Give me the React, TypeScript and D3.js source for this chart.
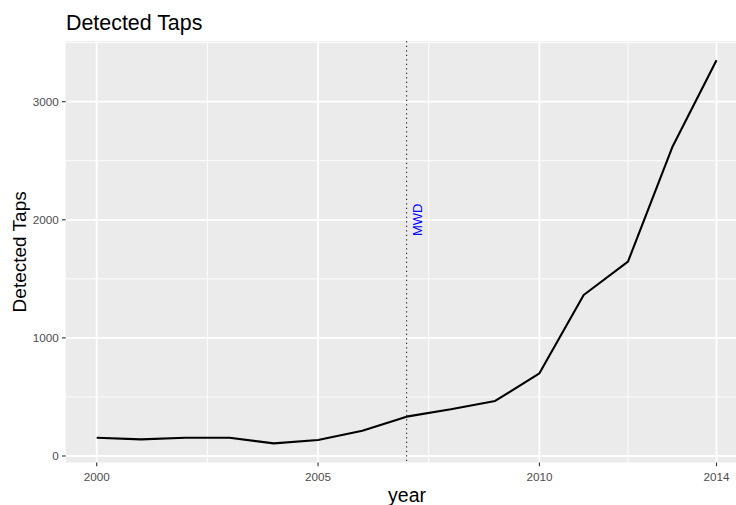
import React from "react";
import * as d3 from "d3";

const years = [2000, 2001, 2002, 2003, 2004, 2005, 2006, 2007, 2008, 2009, 2010, 2011, 2012, 2013, 2014];
const taps = [155, 141, 155, 155, 107, 135, 214, 333, 395, 466, 700, 1363, 1645, 2614, 3350];
const xTicks = [2000, 2005, 2010, 2014];
const xMinor = [2002.5, 2007.5, 2012];
const yTicks = [0, 1000, 2000, 3000];
const yMinor = [500, 1500, 2500, 3500];
const markerYear = 2007;
const markerLabel = "MWD";
const markerLabelPos = { x: 2007.25, y: 2000 };

const W = 736;
const H = 505;
const FONT = "'Liberation Sans', Arial, sans-serif";

export default function App() {
  const xr = d3.extent(years) as [number, number];
  const xe = (xr[1] - xr[0]) * 0.05;
  const x = d3.scaleLinear().domain([xr[0] - xe, xr[1] + xe]).range([65.7, 747.5]);
  const yr = d3.extent(taps) as [number, number];
  const ye = (yr[1] - yr[0]) * 0.05;
  const y = d3.scaleLinear().domain([yr[0] - ye, yr[1] + ye]).range([462.5, 41.2]);

  const [x0, x1] = x.range();
  const [yb, yt] = y.range();
  const line = d3
    .line<number>()
    .x((_, i) => x(years[i]))
    .y((d) => y(d));

  return (
    <svg
      width={W}
      height={H}
      style={{ position: "absolute", left: 0, top: 0, background: "#fff" }}
      fontFamily={FONT}
    >
      <rect x={x0} y={yt} width={x1 - x0} height={yb - yt} fill="#EBEBEB" />
      {yMinor.map((v) => (
        <line key={"ym" + v} x1={x0} x2={x1} y1={y(v)} y2={y(v)} stroke="#fff" strokeWidth={0.9} />
      ))}
      {xMinor.map((v) => (
        <line key={"xm" + v} x1={x(v)} x2={x(v)} y1={yt} y2={yb} stroke="#fff" strokeWidth={0.9} />
      ))}
      {yTicks.map((v) => (
        <line key={"yM" + v} x1={x0} x2={x1} y1={y(v)} y2={y(v)} stroke="#fff" strokeWidth={1.8} />
      ))}
      {xTicks.map((v) => (
        <line key={"xM" + v} x1={x(v)} x2={x(v)} y1={yt} y2={yb} stroke="#fff" strokeWidth={1.8} />
      ))}
      <path d={line(taps) || ""} fill="none" stroke="#000" strokeWidth={2.1} strokeLinejoin="round" />
      <line
        x1={x(markerYear)}
        x2={x(markerYear)}
        y1={yt}
        y2={yb}
        stroke="#222"
        strokeWidth={1.1}
        strokeDasharray="1.2,3.3"
      />
      <text
        transform={`translate(${x(markerLabelPos.x)},${y(markerLabelPos.y)}) rotate(-90)`}
        textAnchor="middle"
        dominantBaseline="central"
        fontSize={13}
        fill="#0000FF"
      >
        {markerLabel}
      </text>
      {yTicks.map((v) => (
        <g key={"yt" + v}>
          <line x1={x0 - 3.7} x2={x0} y1={y(v)} y2={y(v)} stroke="#333" strokeWidth={1.1} />
          <text x={x0 - 7} y={y(v)} dy="0.35em" textAnchor="end" fontSize={11.7} fill="#4D4D4D">
            {v}
          </text>
        </g>
      ))}
      {xTicks.map((v) => (
        <g key={"xt" + v}>
          <line x1={x(v)} x2={x(v)} y1={yb} y2={yb + 3.7} stroke="#333" strokeWidth={1.1} />
          <text x={x(v)} y={480.7} textAnchor="middle" fontSize={11.7} fill="#4D4D4D">
            {v}
          </text>
        </g>
      ))}
      <text x={(x0 + x1) / 2 - 0} y={501.5} textAnchor="middle" fontSize={19.5} fill="#000">
        <tspan x={407}>year</tspan>
      </text>
      <text
        transform={`translate(26,${(yt + yb) / 2}) rotate(-90)`}
        textAnchor="middle"
        fontSize={19}
        fill="#000"
      >
        Detected Taps
      </text>
      <text x={66} y={29.5} fontSize={21.4} fill="#000">
        Detected Taps
      </text>
    </svg>
  );
}
